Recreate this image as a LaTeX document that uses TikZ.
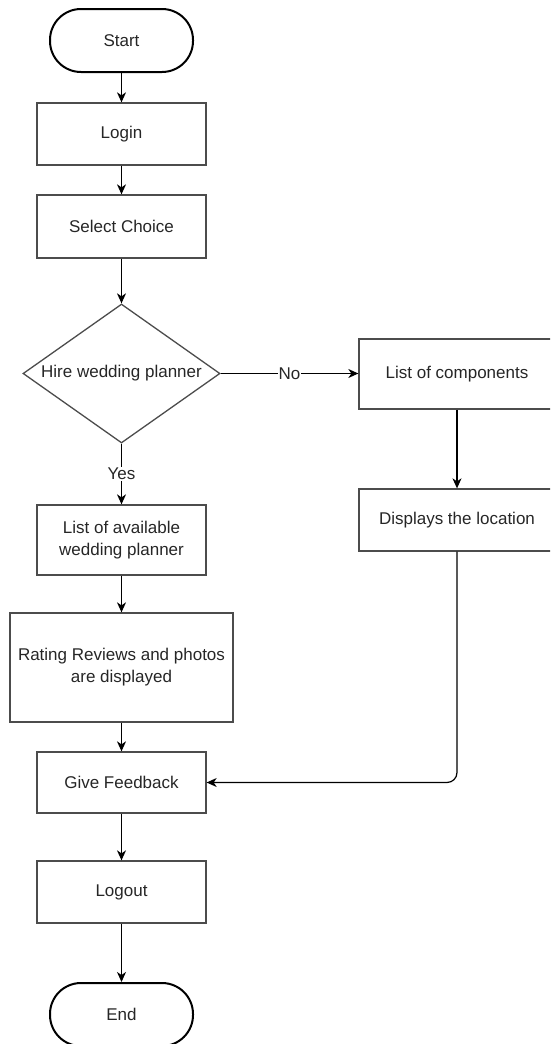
\documentclass[tikz,border=0pt]{standalone}
\usepackage{fontspec}
\setmainfont{Liberation Sans}
\usetikzlibrary{arrows.meta,shapes.geometric}
\begin{document}
\begin{tikzpicture}[x=1pt,y=-1pt,
  every node/.style={font=\fontsize{17}{22}\selectfont, text=black!85, inner sep=0pt},
  proc/.style={draw=black!70, line width=1.3pt, minimum width=169pt, minimum height=62pt, align=center},
  term/.style={draw=black, line width=2pt, rounded corners=31pt, minimum width=143pt, minimum height=63pt},
  dec/.style={draw=black!70, line width=1.3pt, diamond, aspect=1.417, minimum width=197pt, minimum height=139pt},
  arr/.style={draw=black, line width=1.2pt, -{Stealth[length=10pt,width=9pt,inset=3pt]}},
  lbl/.style={fill=white, inner sep=1pt}
]
\useasboundingbox (0,0) rectangle (550,1044);
\clip (0,0) rectangle (550,1044);

\node[term] (start) at (121.5,40.5) {Start};
\node[proc] (login) at (121.5,134) {Login};
\node[proc, minimum height=63pt] (sel) at (121.5,226.5) {Select Choice};
\node[dec] (dec) at (121.5,373.5) {Hire wedding planner};
\node[proc, minimum height=70pt] (avail) at (121.5,540) {List of available\\wedding planner};
\node[proc, minimum width=223pt, minimum height=109pt] (rate) at (121.5,667.5) {Rating Reviews and photos\\are displayed};
\node[proc, minimum height=61pt] (fb) at (121.5,782.5) {Give Feedback};
\node[proc] (logout) at (121.5,892) {Logout};
\node[term] (end) at (121.5,1014.5) {End};
\node[proc, minimum width=196pt, minimum height=70pt] (comp) at (457,374) {List of components};
\node[proc, minimum width=196pt] (disp) at (457,520) {Displays the location};

\draw[arr] (start) -- (login);
\draw[arr] (login) -- (sel);
\draw[arr] (sel) -- (dec);
\draw[arr] (dec) -- node[lbl] {Yes} (avail);
\draw[arr] (dec.east) -- node[lbl] {No} (dec.east -| comp.west);
\draw[arr] (comp) -- (disp);
\draw[arr] (avail) -- (rate);
\draw[arr] (rate) -- (fb);
\draw[arr] (fb) -- (logout);
\draw[arr] (logout) -- (end);
\draw[arr, rounded corners=10pt] (disp.south) -- (disp.south |- fb.east) -- (fb.east);
\end{tikzpicture}
\end{document}
